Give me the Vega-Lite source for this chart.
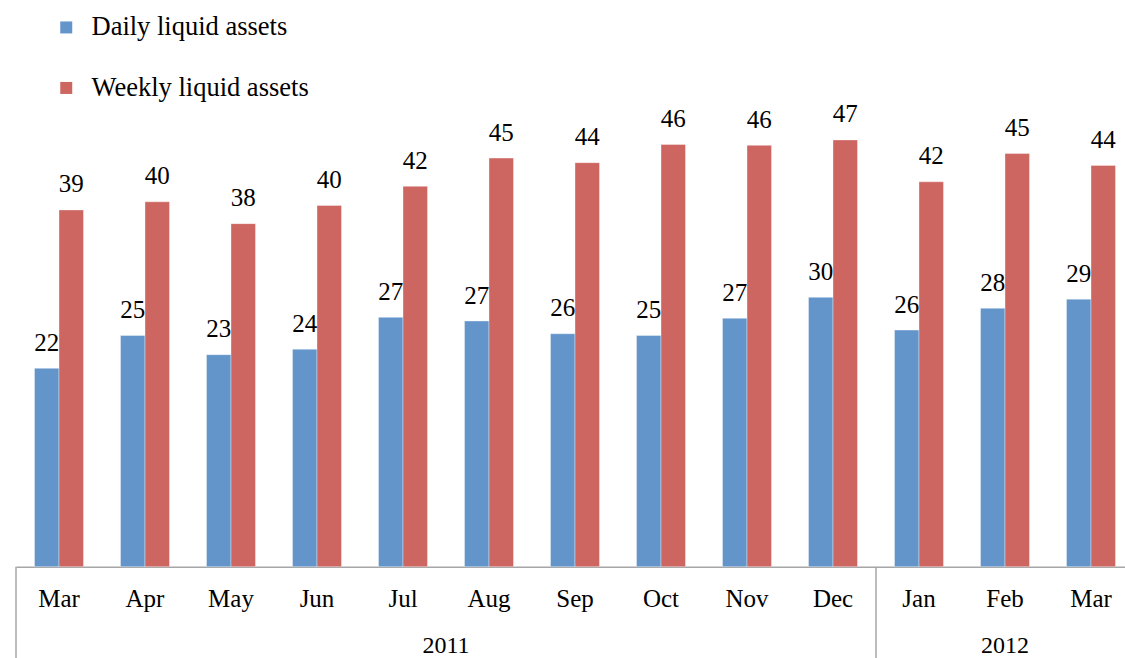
{
  "$schema": "https://vega.github.io/schema/vega-lite/v6.json",
  "autosize": {"type": "none"},
  "width": 1109,
  "height": 455,
  "padding": {"left": 16, "top": 111.7, "right": 0, "bottom": 91.3},
  "background": "white",
  "config": {"view": {"stroke": null}, "font": "Liberation Serif"},
  "data": {
    "values": [
      {"key": "2011-Mar", "Daily liquid assets": 21.8, "Weekly liquid assets": 39.2},
      {"key": "2011-Apr", "Daily liquid assets": 25.4, "Weekly liquid assets": 40.1},
      {"key": "2011-May", "Daily liquid assets": 23.3, "Weekly liquid assets": 37.7},
      {"key": "2011-Jun", "Daily liquid assets": 23.9, "Weekly liquid assets": 39.7},
      {"key": "2011-Jul", "Daily liquid assets": 27.4, "Weekly liquid assets": 41.8},
      {"key": "2011-Aug", "Daily liquid assets": 27.0, "Weekly liquid assets": 44.9},
      {"key": "2011-Sep", "Daily liquid assets": 25.6, "Weekly liquid assets": 44.4},
      {"key": "2011-Oct", "Daily liquid assets": 25.4, "Weekly liquid assets": 46.4},
      {"key": "2011-Nov", "Daily liquid assets": 27.3, "Weekly liquid assets": 46.3},
      {"key": "2011-Dec", "Daily liquid assets": 29.6, "Weekly liquid assets": 46.9},
      {"key": "2012-Jan", "Daily liquid assets": 26.0, "Weekly liquid assets": 42.3},
      {"key": "2012-Feb", "Daily liquid assets": 28.4, "Weekly liquid assets": 45.4},
      {"key": "2012-Mar", "Daily liquid assets": 29.4, "Weekly liquid assets": 44.1}
    ]
  },
  "transform": [
    {"fold": ["Daily liquid assets", "Weekly liquid assets"], "as": ["series", "value"]}
  ],
  "encoding": {
    "x": {
      "field": "key",
      "type": "nominal",
      "sort": null,
      "scale": {"range": [0, 1118], "paddingInner": 0, "paddingOuter": 0},
      "axis": {
        "title": null,
        "labelExpr": "substring(datum.value, 5)",
        "ticks": false,
        "tickSize": 0,
        "labelPadding": 40,
        "labelBaseline": "alphabetic",
        "labelFontSize": 25,
        "labelFont": "Liberation Serif",
        "labelColor": "#000000",
        "labelAngle": 0,
        "labelOverlap": false,
        "domainColor": "#A6A6A6",
        "domainWidth": 1.5,
        "grid": false
      }
    }
  },
  "layer": [
    {
      "mark": {"type": "bar", "stroke": "#ffffff", "strokeWidth": 0.6, "strokeOpacity": 0.6},
      "encoding": {
        "xOffset": {"field": "series", "type": "nominal", "scale": {"paddingInner": 0, "paddingOuter": 0.755}},
        "y": {"field": "value", "type": "quantitative", "scale": {"domain": [0, 50]}, "axis": null},
        "color": {
          "field": "series",
          "type": "nominal",
          "scale": {"domain": ["Daily liquid assets", "Weekly liquid assets"], "range": ["#6395CA", "#CD6660"]},
          "legend": {
            "title": null,
            "orient": "none",
            "legendX": 37,
            "legendY": -97.5,
            "direction": "vertical",
            "symbolType": "square",
            "symbolSize": 144,
            "symbolStrokeWidth": 0,
            "labelFontSize": 26.5,
            "labelFont": "Liberation Serif",
            "labelColor": "#000000",
            "labelLimit": 400,
            "rowPadding": 33.5,
            "labelOffset": 12,
            "padding": 0
          }
        }
      }
    },
    {
      "mark": {"type": "text", "baseline": "alphabetic", "dy": -17.5, "fontSize": 25, "color": "#000000", "font": "Liberation Serif"},
      "encoding": {
        "xOffset": {"field": "series", "type": "nominal", "scale": {"paddingInner": 0, "paddingOuter": 0.755}},
        "y": {"field": "value", "type": "quantitative"},
        "text": {"field": "value", "type": "quantitative", "format": ".0f"}
      }
    },
    {
      "transform": [{"filter": "datum.series === 'Daily liquid assets' && (datum.key === '2011-Mar' || datum.key === '2012-Jan')"}],
      "mark": {"type": "rule", "color": "#A6A6A6", "strokeWidth": 1.5},
      "encoding": {
        "x": {"field": "key", "type": "nominal", "bandPosition": 0},
        "y": {"datum": 0},
        "y2": {"datum": -11}
      }
    },
    {
      "data": {"values": [{"year": "2011", "anchor": "2011-Aug"}]},
      "transform": [],
      "mark": {"type": "text", "baseline": "alphabetic", "align": "center", "fontSize": 24, "color": "#000000", "font": "Liberation Serif"},
      "encoding": {
        "x": {"field": "anchor", "type": "nominal", "bandPosition": 0},
        "y": {"datum": -9.5},
        "text": {"field": "year", "type": "nominal"}
      }
    },
    {
      "data": {"values": [{"year": "2012", "anchor": "2012-Feb"}]},
      "transform": [],
      "mark": {"type": "text", "baseline": "alphabetic", "align": "center", "fontSize": 24, "color": "#000000", "font": "Liberation Serif"},
      "encoding": {
        "x": {"field": "anchor", "type": "nominal", "bandPosition": 0.5},
        "y": {"datum": -9.5},
        "text": {"field": "year", "type": "nominal"}
      }
    }
  ]
}
